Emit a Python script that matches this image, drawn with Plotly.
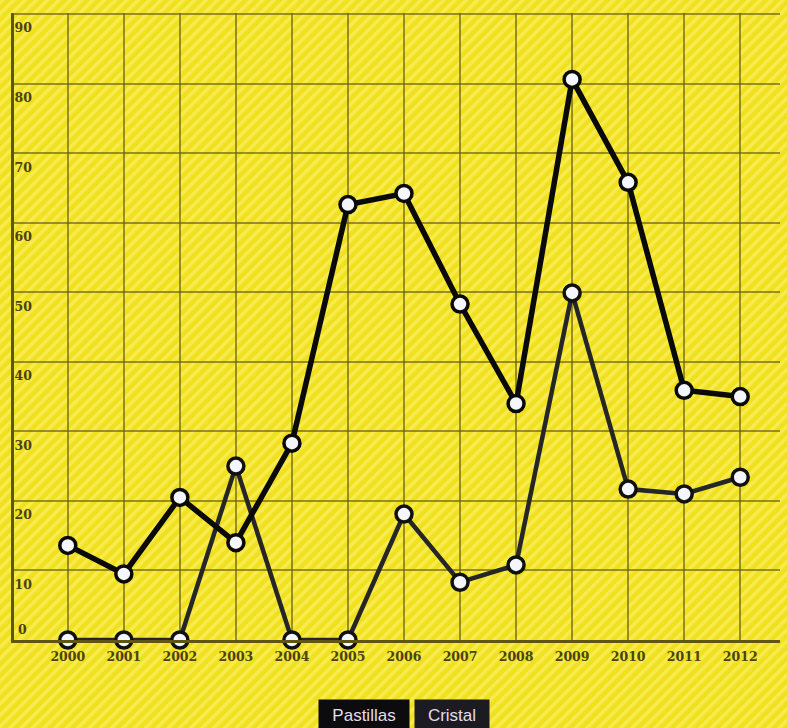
import base64
import plotly.graph_objects as go

years = [2000, 2001, 2002, 2003, 2004, 2005, 2006, 2007, 2008, 2009, 2010, 2011, 2012]
pastillas = [13.6, 9.5, 20.5, 14, 28.3, 62.6, 64.2, 48.3, 34, 80.6, 65.8, 35.9, 35]
cristal = [0, 0, 0, 25, 0, 0, 18.1, 8.3, 10.8, 49.9, 21.7, 21, 23.4]
y_ticks = [0, 10, 20, 30, 40, 50, 60, 70, 80, 90]
series_names = ["Pastillas", "Cristal"]

# striped yellow background
svg = ('<svg xmlns="http://www.w3.org/2000/svg" width="787" height="728">'
       '<defs><pattern id="p" width="8" height="8" patternUnits="userSpaceOnUse" '
       'patternTransform="rotate(45)">'
       '<rect width="8" height="8" fill="#f1e020"/>'
       '<rect width="3.5" height="8" fill="#f7ec4e"/></pattern></defs>'
       '<rect width="787" height="728" fill="url(#p)"/></svg>')
bg_src = "data:image/svg+xml;base64," + base64.b64encode(svg.encode()).decode()

ML, MR, MT, MB = 14, 7, 13, 88
W, H = 787, 728
pw, ph = W - ML - MR, H - MT - MB

fig = go.Figure()
fig.add_trace(go.Scatter(
    x=years, y=cristal, mode="lines+markers", name=series_names[1],
    line=dict(color="#262626", width=4.5),
    marker=dict(size=16, color="#f4f6fc", line=dict(color="#111111", width=3.5)),
    showlegend=False, cliponaxis=False))
fig.add_trace(go.Scatter(
    x=years, y=pastillas, mode="lines+markers", name=series_names[0],
    line=dict(color="#0a0a0a", width=5.5),
    marker=dict(size=16, color="#f4f6fc", line=dict(color="#0a0a0a", width=3.5)),
    showlegend=False, cliponaxis=False))

fig.add_layout_image(dict(
    source=bg_src, xref="paper", yref="paper",
    x=-ML / pw, y=1 + MT / ph, sizex=W / pw, sizey=H / ph,
    sizing="stretch", layer="below", xanchor="left", yanchor="top"))

tick_font = dict(family="DejaVu Serif", size=12.5, color="#4a4312", weight="bold")
grid_col = "rgba(105,95,20,0.65)"
y_text = ["" if v == 0 else str(v) for v in y_ticks]
fig.update_layout(
    width=W, height=H,
    margin=dict(l=ML, r=MR, t=MT, b=MB),
    paper_bgcolor="#f1e020", plot_bgcolor="rgba(0,0,0,0)",
    xaxis=dict(range=[1999.04, 2012.71], tickvals=years, ticktext=[str(y) for y in years],
               showgrid=True, gridcolor=grid_col, gridwidth=1.5,
               showline=True, linecolor="#5e5516", linewidth=2.5,
               zeroline=False, tickfont=tick_font, ticks="outside", ticklen=3,
               tickcolor="rgba(0,0,0,0)"),
    yaxis=dict(range=[0, 90.15], tickvals=y_ticks, ticktext=y_text,
               showgrid=True, gridcolor=grid_col, gridwidth=1.5,
               showline=True, linecolor="#5e5516", linewidth=3,
               zeroline=False, tickfont=tick_font, ticks="",
               ticklabelposition="inside", ticklabelshift=14),
)
# the "0" label sits just above the baseline
fig.add_annotation(text=str(y_ticks[0]), xref="paper", yref="y", x=0.003, y=0,
                   xanchor="left", yanchor="bottom", yshift=1, showarrow=False,
                   font=tick_font)

legend_font = dict(family="Liberation Sans", size=17, color="#e2dde8")
fig.add_annotation(text=series_names[0], xref="paper", yref="paper",
                   x=(364 - ML) / pw, y=(640 - 715) / ph, showarrow=False,
                   xanchor="center", yanchor="middle",
                   width=82, height=22, align="center",
                   bgcolor="#0c0c0e", font=legend_font, borderpad=4)
fig.add_annotation(text=series_names[1], xref="paper", yref="paper",
                   x=(452 - ML) / pw, y=(640 - 715) / ph, showarrow=False,
                   xanchor="center", yanchor="middle",
                   width=66, height=22, align="center",
                   bgcolor="#1c1b22", font=legend_font, borderpad=4)

fig.write_html("out.html", config={"displayModeBar": False},
               post_script="document.body.style.margin='0';"
                           "document.body.style.background='#f1e020';")
